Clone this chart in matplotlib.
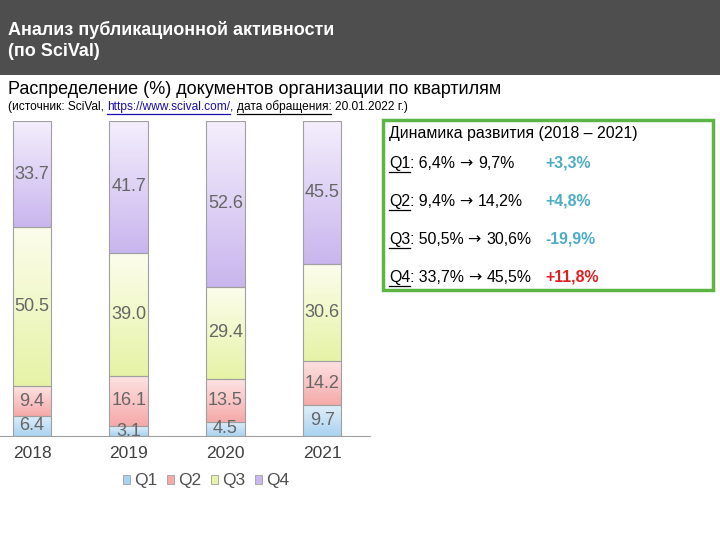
import matplotlib.pyplot as plt
from matplotlib.patches import Rectangle, Patch
from matplotlib.colors import LinearSegmentedColormap
from matplotlib.lines import Line2D
import numpy as np

plt.rcParams['font.family'] = ['Liberation Sans', 'DejaVu Sans']

years = ['2018', '2019', '2020', '2021']
q1 = [6.4, 3.1, 4.5, 9.7]
q2 = [9.4, 16.1, 13.5, 14.2]
q3 = [50.5, 39.0, 29.4, 30.6]
q4 = [33.7, 41.7, 52.6, 45.5]
series = [q1, q2, q3, q4]
names = ['Q1', 'Q2', 'Q3', 'Q4']
# top / bottom colours of each gradient
grad = [('#e0eef9', '#a9d3f1'),
        ('#fde3e3', '#f6a9a9'),
        ('#fcfdec', '#e6f3a6'),
        ('#f4eefc', '#c9b6ee')]

rows = [('Q1', '6,4%', '9,7%', '+3,3%', '#4bacc6'),
        ('Q2', '9,4%', '14,2%', '+4,8%', '#4bacc6'),
        ('Q3', '50,5%', '30,6%', '-19,9%', '#4bacc6'),
        ('Q4', '33,7%', '45,5%', '+11,8%', '#e02020')]

W, H = 720, 540
fig = plt.figure(figsize=(7.2, 5.4), dpi=100)


def fx(px):
    return px / W


def fy(py):
    return 1 - py / H


# header band
fig.patches.append(Rectangle((0, fy(75)), 1, 75 / H, transform=fig.transFigure,
                             facecolor='#4e4e4e', edgecolor='none', zorder=0))
fig.text(fx(8), fy(30), 'Анализ публикационной активности', color='white',
         fontsize=13, fontweight='bold', va='center')
fig.text(fx(8), fy(51), '(по SciVal)', color='white',
         fontsize=13, fontweight='bold', va='center')
fig.text(fx(8), fy(90), 'Распределение (%) документов организации по квартилям',
         color='black', fontsize=13, va='center')

renderer = fig.canvas.get_renderer()
MAIN = ['Liberation Sans', 'DejaVu Sans']


def text_w(s, size, fam, wt='normal'):
    t = fig.text(0, 0, s, fontsize=size, family=fam, fontweight=wt)
    w = t.get_window_extent(renderer).width
    t.remove()
    return w


def inline(x, y, parts, size):
    # parts: (text, colour, underline[, family]); spaces only at the end
    for p in parts:
        txt, col, ul = p[:3]
        fam = p[3] if len(p) > 3 else MAIN
        t = fig.text(fx(x), fy(y), txt, color=col, fontsize=size, family=fam,
                     va='baseline')
        if ul:
            w = text_w(txt.rstrip(' '), size, fam)
            bb = t.get_window_extent(renderer)
            fig.add_artist(Line2D([x / W, (x + w) / W], [bb.y0 / H - 0.001] * 2,
                                  transform=fig.transFigure, color=col, lw=0.9))
        x += text_w(txt + 'x', size, fam) - text_w('x', size, fam)
    return x


inline(8, 110, [('(источник: SciVal, ', 'black', False),
                ('https://www.scival.com/', '#1a0dab', True),
                (', ', 'black', False),
                ('дата обращения: ', 'black', True),
                ('20.01.2022 г.)', 'black', False)], 8.6)

# chart
ax = fig.add_axes([0, fy(436), fx(370), (436 - 121) / H])
x = np.arange(len(years))
bw = 0.4
bottom = np.zeros(len(years))
for vals, (ctop, cbot) in zip(series, grad):
    cmap = LinearSegmentedColormap.from_list('g', [cbot, ctop])
    bars = ax.bar(x, vals, bw, bottom=bottom, color='none', edgecolor='#a0a0a0',
                  linewidth=0.8, zorder=3)
    for b in bars:
        im = ax.imshow(np.linspace(0, 1, 64).reshape(-1, 1), cmap=cmap,
                       origin='lower', aspect='auto', zorder=2,
                       extent=[b.get_x(), b.get_x() + b.get_width(),
                               b.get_y(), b.get_y() + b.get_height()])
        im.set_clip_path(b)
    for xi, v, b0 in zip(x, vals, bottom):
        ax.text(xi, b0 + v / 2, f'{v:.1f}', ha='center', va='center',
                fontsize=13, color='#666666', zorder=4, clip_on=True)
    bottom += np.array(vals)

ax.set_xlim(-0.331, 3.495)
ax.set_ylim(0, 100)
ax.set_xticks(x)
ax.set_xticklabels(years, fontsize=12.5, color='#404040')
ax.tick_params(axis='x', length=0, pad=7)
ax.set_yticks([])
for s in ['top', 'left', 'right']:
    ax.spines[s].set_visible(False)
ax.spines['bottom'].set_color('#a0a0a0')
ax.spines['bottom'].set_zorder(5)

handles = [Patch(facecolor=c[1], edgecolor='#a0a0a0', linewidth=0.6) for c in grad]
fig.legend(handles, names, loc='center', bbox_to_anchor=(fx(206), fy(481)),
           ncol=4, frameon=False, fontsize=12.5, handlelength=0.4, handleheight=0.4,
           handletextpad=0.2, columnspacing=0.6, labelcolor='#505050')

# dynamics box
fig.patches.append(Rectangle((fx(383), fy(290)), fx(713 - 383), (290 - 120) / H,
                             transform=fig.transFigure, facecolor='none',
                             edgecolor='#5cb444', linewidth=2.5))
fig.text(fx(389), fy(138), 'Динамика развития (2018 \u2013 2021)', fontsize=11.4,
         color='black', va='baseline')
for i, (q, a, b, delta, col) in enumerate(rows):
    yb = 168 + i * 38
    inline(389, yb, [(q, 'black', True),
                     (': ' + a + ' ', 'black', False),
                     ('\u2192 ', 'black', False, ['DejaVu Sans']),
                     (b, 'black', False)], 11.4)
    fig.text(fx(545), fy(yb), delta, fontsize=11.4, color=col, fontweight='bold',
             va='baseline')

fig.savefig('out.png', dpi=100)
